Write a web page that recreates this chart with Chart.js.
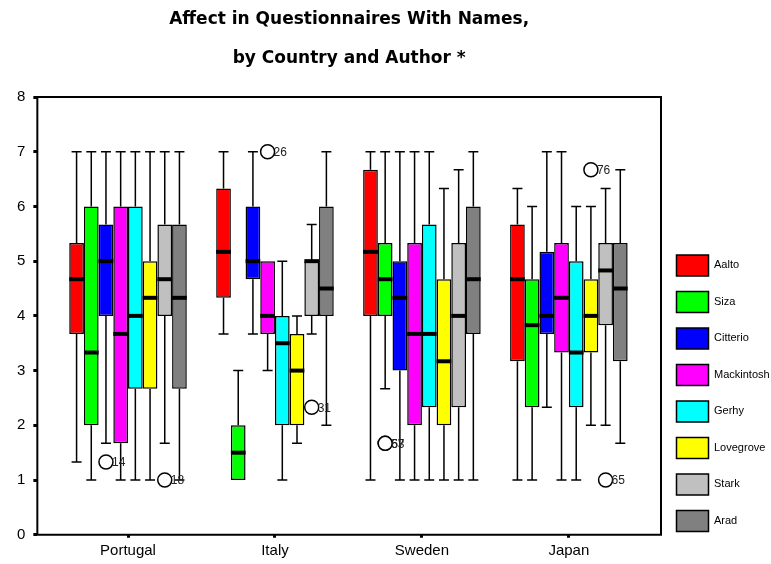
<!DOCTYPE html>
<html>
<head>
<meta charset="utf-8">
<script src="https://cdn.jsdelivr.net/npm/chart.js@4.4.1/dist/chart.umd.min.js"></script>
<style>
  html, body { margin: 0; padding: 0; background: #fff; }
  #wrap { width: 771px; height: 564px; }
</style>
</head>
<body>
<div id="wrap"><canvas id="chart"></canvas></div>
<script>
// categories
const countries = ["Portugal", "Italy", "Sweden", "Japan"];
const authors = ["Aalto", "Siza", "Citterio", "Mackintosh", "Gerhy", "Lovegrove", "Stark", "Arad"];
const authorColors = ["#ff0000", "#00ff00", "#0000ff", "#ff00ff", "#00ffff", "#ffff00", "#c0c0c0", "#808080"];

// box plot statistics, one row per author, columns = countries
const whiskerLow = [
  [1.33, 3.67, 1, 1],
  [1, 1, 2.67, 1],
  [1.67, 3.67, 1, 2.33],
  [1, 3, 1, 1],
  [1, 1, 1, 1],
  [1, 1.67, 1, 2],
  [1.67, 3.67, 1, 2],
  [1, 2, 1, 1.67]
];
const quartile1 = [
  [3.67, 4.33, 4, 3.17],
  [2, 1, 4, 2.33],
  [4, 4.67, 3, 3.67],
  [1.67, 3.67, 2, 3.33],
  [2.67, 2, 2.33, 2.33],
  [2.67, 2, 2, 3.33],
  [4, 4, 2.33, 3.83],
  [2.67, 4, 3.67, 3.17]
];
const medians = [
  [4.67, 5.17, 5.17, 4.67],
  [3.33, 1.5, 4.67, 3.83],
  [5, 5, 4.33, 4],
  [3.67, 4, 3.67, 4.33],
  [4, 3.5, 3.67, 3.33],
  [4.33, 3, 3.17, 4],
  [4.67, 5, 4, 4.83],
  [4.33, 4.5, 4.67, 4.5]
];
const quartile3 = [
  [5.33, 6.33, 6.67, 5.67],
  [6, 2, 5.33, 4.67],
  [5.67, 6, 5, 5.17],
  [6, 5, 5.33, 5.33],
  [6, 4, 5.67, 5],
  [5, 3.67, 4.67, 4.67],
  [5.67, 5, 5.33, 5.33],
  [5.67, 6, 6, 5.33]
];
const whiskerHigh = [
  [7, 7, 7, 6.33],
  [7, 3, 7, 6],
  [7, 7, 7, 7],
  [7, 5, 7, 7],
  [7, 5, 7, 6],
  [7, 4, 6.33, 6],
  [7, 5.67, 6.67, 6.33],
  [7, 7, 7, 6.67]
];

// outliers (author index, country index, value, case label)
const outlierAuthor = [2, 6, 3, 6, 1, 1, 5, 6];
const outlierCountry = [0, 0, 1, 1, 2, 2, 3, 3];
const outlierValue = [1.33, 1, 7, 2.33, 1.67, 1.67, 6.67, 1];
const outlierLabel = ["14", "18", "26", "31", "57", "63", "76", "65"];

const yTicks = [0, 1, 2, 3, 4, 5, 6, 7, 8];

const datasets = authors.map((name, j) => ({
  label: name,
  data: countries.map((_, i) => ({ x: i, y: [quartile1[j][i], quartile3[j][i]] })),
  backgroundColor: authorColors[j],
  borderColor: "#000",
  borderWidth: 1.5,
  borderSkipped: false,
  categoryPercentage: 0.8,
  barPercentage: 1.0
}));

// whiskers, medians, outliers and the plot frame
const boxPlotExtras = {
  id: "boxPlotExtras",
  afterDatasetsDraw(chart) {
    const ctx = chart.ctx;
    const y = chart.scales.y;
    const area = chart.chartArea;
    ctx.save();
    ctx.strokeStyle = "#000";
    ctx.lineCap = "butt";

    authors.forEach((_, j) => {
      const meta = chart.getDatasetMeta(j);
      meta.data.forEach((bar, i) => {
        const cx = bar.x;
        const half = bar.width / 2;
        const cap = bar.width * 0.34;
        const pLo = y.getPixelForValue(whiskerLow[j][i]);
        const pQ1 = y.getPixelForValue(quartile1[j][i]);
        const pQ3 = y.getPixelForValue(quartile3[j][i]);
        const pHi = y.getPixelForValue(whiskerHigh[j][i]);
        const pMed = y.getPixelForValue(medians[j][i]);

        ctx.lineWidth = 1.5;
        ctx.beginPath();
        if (whiskerHigh[j][i] > quartile3[j][i]) {
          ctx.moveTo(cx, pQ3); ctx.lineTo(cx, pHi);
          ctx.moveTo(cx - cap, pHi); ctx.lineTo(cx + cap, pHi);
        }
        if (whiskerLow[j][i] < quartile1[j][i]) {
          ctx.moveTo(cx, pQ1); ctx.lineTo(cx, pLo);
          ctx.moveTo(cx - cap, pLo); ctx.lineTo(cx + cap, pLo);
        }
        ctx.stroke();

        ctx.lineWidth = 4;
        ctx.beginPath();
        ctx.moveTo(cx - half, pMed);
        ctx.lineTo(cx + half, pMed);
        ctx.stroke();
      });
    });

    // outliers
    ctx.font = "12px 'Liberation Sans', Arial, sans-serif";
    ctx.textBaseline = "middle";
    ctx.textAlign = "left";
    outlierValue.forEach((v, k) => {
      const bar = chart.getDatasetMeta(outlierAuthor[k]).data[outlierCountry[k]];
      const px = bar.x;
      const py = y.getPixelForValue(v);
      ctx.lineWidth = 1.5;
      ctx.fillStyle = "#fff";
      ctx.beginPath();
      ctx.arc(px, py, 7, 0, Math.PI * 2);
      ctx.fill();
      ctx.stroke();
      ctx.fillStyle = "#222";
      ctx.fillText(outlierLabel[k], px + 6, py + 1);
    });

    // frame round the plot
    ctx.lineWidth = 2;
    ctx.strokeRect(area.left, area.top, area.right - area.left, area.bottom - area.top);
    ctx.restore();
  }
};

const ctx = document.getElementById("chart").getContext("2d");
new Chart(ctx, {
  type: "bar",
  data: { datasets },
  plugins: [boxPlotExtras],
  options: {
    responsive: true,
    maintainAspectRatio: false,
    animation: false,
    layout: { padding: { left: 9, right: 0, top: 0, bottom: 0 } },
    plugins: {
      tooltip: { enabled: false },
      title: {
        display: true,
        fullSize: false,
        text: ["Affect in Questionnaires With Names,", "by Country and Author *"],
        color: "#000",
        font: { family: "'DejaVu Sans', sans-serif", size: 17, weight: "bold", lineHeight: 39 / 17 },
        padding: { top: 0, bottom: 19 }
      },
      legend: {
        position: "right",
        align: "start",
        fullSize: true,
        maxWidth: 110,
        title: { display: true, text: "", font: { size: 12, lineHeight: 1.2 }, padding: { top: 225, bottom: 0 } },
        labels: {
          boxWidth: 32,
          boxHeight: 21,
          padding: 15.5,
          color: "#000",
          font: { family: "'Liberation Sans', Arial, sans-serif", size: 11 }
        }
      }
    },
    scales: {
      x: {
        type: "linear",
        offset: false,
        min: -0.617,
        max: 3.627,
        afterBuildTicks: (scale) => { scale.ticks = countries.map((_, i) => ({ value: i })); },
        ticks: {
          callback: (v) => countries[v],
          color: "#000",
          padding: 6,
          maxRotation: 0,
          font: { family: "'Liberation Sans', Arial, sans-serif", size: 15, lineHeight: 0.95 }
        },
        grid: { display: true, offset: false, drawOnChartArea: false, drawTicks: true, tickLength: 3, tickWidth: 3, color: "#000" },
        border: { display: false }
      },
      y: {
        min: 0,
        max: 8,
        afterBuildTicks: (scale) => { scale.ticks = yTicks.map(v => ({ value: v })); },
        ticks: {
          color: "#000",
          padding: 8,
          font: { family: "'Liberation Sans', Arial, sans-serif", size: 15 }
        },
        grid: { display: true, drawOnChartArea: false, drawTicks: true, tickLength: 4, tickWidth: 3, color: "#000" },
        border: { display: false }
      }
    }
  }
});
</script>
</body>
</html>
